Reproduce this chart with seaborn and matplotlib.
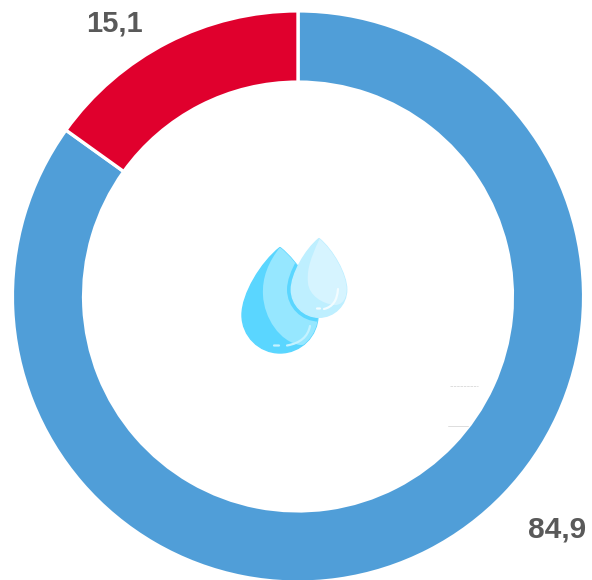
import matplotlib.pyplot as plt
import seaborn as sns
from matplotlib.patches import PathPatch
from matplotlib.path import Path

labels = ['84,9', '15,1']
values = [84.9, 15.1]
colors = ['#509ED8', '#E0002D']

H = 580

sns.set_theme(style='white')
plt.rcParams['font.family'] = ['Liberation Sans', 'DejaVu Sans']


def drop_path(cx, cy, r, tip_y):
    # teardrop, y given in image pixels (from the top)
    k = 0.55 * r
    h = cy - tip_y
    verts = [(cx, tip_y),
             (cx - 0.5 * r, tip_y + 0.22 * h), (cx - r, cy - k), (cx - r, cy),
             (cx - r, cy + k), (cx - k, cy + r), (cx, cy + r),
             (cx + k, cy + r), (cx + r, cy + k), (cx + r, cy),
             (cx + r, cy - k), (cx + 0.5 * r, tip_y + 0.22 * h), (cx, tip_y)]
    codes = [Path.MOVETO] + [Path.CURVE4] * 12
    return Path([(x, H - y) for x, y in verts], codes)


def add_drop(ax, path, color, z):
    patch = PathPatch(path, fc=color, ec=color, lw=1, joinstyle='round', zorder=z)
    ax.add_patch(patch)
    return patch


def shape(ax, pts, color, z, clip):
    # closed curved shape from image pixel points, cut to a drop
    verts = [(x, H - y) for x, y in pts]
    codes = [Path.MOVETO] + [Path.CURVE4] * (len(verts) - 1)
    patch = PathPatch(Path(verts, codes), fc=color, ec='none', zorder=z)
    ax.add_patch(patch)
    patch.set_clip_path(clip)


def stroke(ax, pts, color, width, z):
    verts = [(x, H - y) for x, y in pts]
    codes = [Path.MOVETO] + [Path.CURVE3] * (len(verts) - 1)
    ax.add_patch(PathPatch(Path(verts, codes), fc='none', ec=color, lw=width,
                           capstyle='round', zorder=z))


fig = plt.figure(figsize=(5.92, 5.80), dpi=100)
ax = fig.add_axes([0, 0, 1, 1])

ax.pie(values, colors=colors, startangle=90, counterclock=False,
       center=(298, H - 296.5), radius=285.6, frame=True,
       wedgeprops=dict(width=71.2, edgecolor='white', linewidth=2.4))
ax.set_xlim(0, 592)
ax.set_ylim(0, H)
ax.axis('off')

# big drop
big = add_drop(ax, drop_path(280, 315, 38, 247.5), '#5AD6FF', 3)
shape(ax, [(281, 246), (268, 262), (262, 278), (263, 295),
           (264, 318), (280, 342), (300, 345),
           (330, 345), (335, 290), (281, 246)], '#96E7FF', 4, big)
stroke(ax, [(310, 326), (307, 342), (287, 345.5)], '#C4F2FF', 1.6, 5)
stroke(ax, [(274, 345.5), (277, 345.5), (279, 345.5)], '#C4F2FF', 1.6, 5)

# small drop, with the darker rim only where it lies over the big one
rim = PathPatch(drop_path(319, 289.6, 32, 234), fc='#5AD6FF', ec='none', zorder=6)
ax.add_patch(rim)
rim.set_clip_path(big)
small = add_drop(ax, drop_path(319, 289.6, 27.7, 238.5), '#BEEFFF', 7)
shape(ax, [(320, 238), (308, 263), (307, 273), (308, 283),
           (309, 295), (322, 304), (335, 305),
           (355, 305), (350, 260), (320, 238)], '#D6F4FF', 8, small)
stroke(ax, [(338, 289), (337, 306), (324, 309)], '#F2FCFF', 1.6, 9)
stroke(ax, [(317, 308.5), (319, 308.5), (320, 308.5)], '#F2FCFF', 1.6, 9)

# the faint marks inside the ring, nearly white
ax.plot([450, 478], [H - 385.5, H - 385.5], color='#D8D8D8', lw=0.6, ls=(0, (3, 1)))
ax.plot([448, 468], [H - 425.5, H - 425.5], color='#D8D8D8', lw=0.6)

ax.text(114, H - 24, labels[1], fontsize=21, fontweight='bold', color='#595959',
        ha='center', va='center')
ax.text(557.5, H - 530, labels[0], fontsize=21.5, fontweight='bold', color='#595959',
        ha='center', va='center')

plt.savefig('out.png', dpi=100)
